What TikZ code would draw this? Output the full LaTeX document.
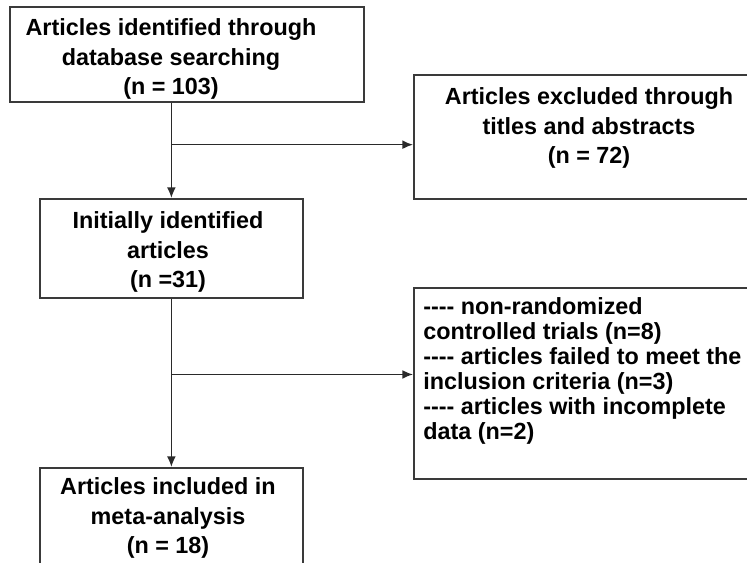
\documentclass[tikz,border=0pt]{standalone}
\usepackage{fontspec}
\setmainfont{Liberation Sans}
\usepackage{tikz}
\usetikzlibrary{arrows.meta,positioning,calc}
\usepackage{xcolor}
\definecolor{frame}{HTML}{3A3A3A}
\definecolor{flow}{HTML}{2A2A2A}
\newcommand{\dashmark}{{-}{-}{-}{-}}

\begin{document}
\begin{tikzpicture}[
  x=0.02cm,y=-0.02cm,
  box/.style={draw=frame,line width=1pt,fill=white,anchor=north west,inner sep=0pt},
  lbl/.style={font=\fontsize{13.3}{16.7}\selectfont\bfseries,align=center,inner sep=0pt},
  lst/.style={font=\fontsize{13.3}{14.2}\selectfont\bfseries,align=left,inner sep=0pt,anchor=north west},
  arr/.style={-{Latex[length=6pt,width=5pt]},line width=0.9pt,flow},
]
  \clip (0,0) rectangle (747,562);
  \fill[white] (0,0) rectangle (747,562);

  \node[box,minimum width=354*0.02cm,minimum height=95*0.02cm] (db) at (9,6) {};
  \node[box,minimum width=360*0.02cm,minimum height=124*0.02cm] (excl) at (413,74) {};
  \node[box,minimum width=263*0.02cm,minimum height=99*0.02cm] (init) at (39,198) {};
  \node[box,minimum width=360*0.02cm,minimum height=191*0.02cm] (drop) at (413,287) {};
  \node[box,minimum width=263*0.02cm,minimum height=130*0.02cm] (meta) at (39,467) {};

  \node[lbl] (dbtxt) at (171,59) {Articles identified through\\database searching\\(n = 103)};
  \node[lbl] (excltxt) at (589,128) {Articles excluded through\\titles and abstracts\\(n = 72)};
  \node[lbl] (inittxt) at (168,252) {Initially identified\\articles\\(n =31)};
  \node[lst] (droptxt) at (423,297) {\dashmark{} non-randomized\\controlled trials (n=8)\\\dashmark{} articles failed to meet the\\inclusion criteria (n=3)\\\dashmark{} articles with incomplete\\data (n=2)};
  \node[lbl] (metatxt) at (168,518) {Articles included in\\meta-analysis\\(n = 18)};

  % junctions on the main line
  \coordinate (j1) at ($(init.north |- db.south)!0.44!(init.north)$);
  \coordinate (j2) at ($(init.south)!0.45!(meta.north)$);

  \draw[arr] (init.north |- db.south) -- (init.north);
  \draw[arr] (j1) -- (j1 -| excl.west);
  \draw[arr] (init.south) -- (meta.north);
  \draw[arr] (j2) -- (j2 -| drop.west);
\end{tikzpicture}
\end{document}
